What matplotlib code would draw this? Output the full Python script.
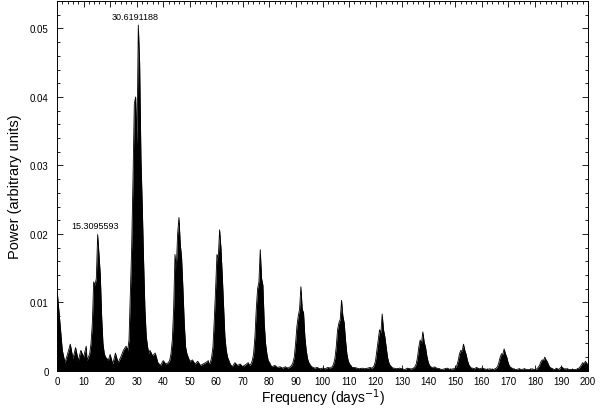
import numpy as np
import matplotlib.pyplot as plt

plt.rcParams['font.family'] = ['Liberation Sans', 'DejaVu Sans']

# harmonic frequencies (days^-1) and labels of the two marked peaks
harmonics = [15.3095593, 30.6191188, 45.93, 61.24, 76.55, 91.86, 107.17,
             122.48, 137.79, 153.10, 168.41, 183.72, 199.03]
peak_labels = {0: '15.3095593', 1: '30.6191188'}

# offsets around each harmonic where the peak profile is read (step 0.5)
peak_offsets = [-4.0, -3.5, -3.0, -2.5, -2.0, -1.5, -1.0, -0.5, 0.0,
                0.5, 1.0, 1.5, 2.0, 2.5, 3.0, 3.5, 4.0]

# power of each peak read at those offsets
peak_power = [
    [0.0015, 0.0020, 0.0025, 0.0040, 0.0070, 0.0130, 0.0125, 0.0135, 0.0199, 0.0170, 0.0140, 0.0080, 0.0040, 0.0025, 0.0020, 0.0018, 0.0015],
    [0.0030, 0.0045, 0.0110, 0.0180, 0.0280, 0.0390, 0.0400, 0.0330, 0.0505, 0.0450, 0.0310, 0.0240, 0.0160, 0.0090, 0.0050, 0.0035, 0.0025],
    [0.0012, 0.0015, 0.0025, 0.0045, 0.0090, 0.0170, 0.0150, 0.0200, 0.0224, 0.0185, 0.0165, 0.0120, 0.0070, 0.0035, 0.0025, 0.0020, 0.0015],
    [0.0010, 0.0012, 0.0020, 0.0035, 0.0075, 0.0120, 0.0170, 0.0165, 0.0206, 0.0180, 0.0140, 0.0095, 0.0050, 0.0030, 0.0020, 0.0015, 0.0010],
    [0.0008, 0.0010, 0.0015, 0.0025, 0.0050, 0.0090, 0.0120, 0.0130, 0.0177, 0.0135, 0.0125, 0.0070, 0.0040, 0.0025, 0.0015, 0.0012, 0.0008],
    [0.0006, 0.0008, 0.0012, 0.0020, 0.0040, 0.0065, 0.0080, 0.0090, 0.0123, 0.0090, 0.0085, 0.0050, 0.0030, 0.0018, 0.0012, 0.0009, 0.0006],
    [0.0005, 0.0006, 0.0010, 0.0018, 0.0035, 0.0060, 0.0070, 0.0075, 0.0103, 0.0080, 0.0070, 0.0045, 0.0025, 0.0015, 0.0010, 0.0008, 0.0005],
    [0.0004, 0.0005, 0.0008, 0.0015, 0.0030, 0.0045, 0.0060, 0.0055, 0.0083, 0.0060, 0.0050, 0.0035, 0.0020, 0.0012, 0.0008, 0.0006, 0.0004],
    [0.0003, 0.0004, 0.0006, 0.0010, 0.0020, 0.0035, 0.0045, 0.0040, 0.0057, 0.0042, 0.0035, 0.0022, 0.0013, 0.0008, 0.0006, 0.0005, 0.0003],
    [0.0003, 0.0003, 0.0005, 0.0008, 0.0015, 0.0025, 0.0030, 0.0028, 0.0039, 0.0030, 0.0024, 0.0015, 0.0009, 0.0006, 0.0004, 0.0004, 0.0003],
    [0.0002, 0.0003, 0.0004, 0.0006, 0.0012, 0.0020, 0.0025, 0.0024, 0.0032, 0.0025, 0.0020, 0.0012, 0.0007, 0.0005, 0.0004, 0.0003, 0.0002],
    [0.0002, 0.0002, 0.0003, 0.0005, 0.0008, 0.0013, 0.0016, 0.0015, 0.0020, 0.0016, 0.0013, 0.0008, 0.0005, 0.0004, 0.0003, 0.0002, 0.0002],
    [0.0002, 0.0002, 0.0003, 0.0004, 0.0006, 0.0009, 0.0012, 0.0010, 0.0014, 0.0011, 0.0009, 0.0006, 0.0004, 0.0003, 0.0002, 0.0002, 0.0002],
]

# background power at integer frequencies 0..200
noise_power = [
    0.0120, 0.0075, 0.0030, 0.0012, 0.0025, 0.0039, 0.0018, 0.0034, 0.0015, 0.0030,
    0.0020, 0.0036, 0.0014, 0.0028, 0.0020, 0.0020, 0.0022, 0.0016, 0.0028, 0.0012,
    0.0024, 0.0010, 0.0026, 0.0012, 0.0020, 0.0030, 0.0036, 0.0025, 0.0038, 0.0030,
    0.0030, 0.0030, 0.0035, 0.0040, 0.0032, 0.0030, 0.0022, 0.0026, 0.0012, 0.0008,
    0.0015, 0.0010, 0.0016, 0.0030, 0.0030, 0.0030, 0.0030, 0.0028, 0.0020, 0.0018,
    0.0014, 0.0016, 0.0010, 0.0014, 0.0008, 0.0010, 0.0012, 0.0015, 0.0014, 0.0012,
    0.0012, 0.0012, 0.0012, 0.0012, 0.0012, 0.0010, 0.0006, 0.0012, 0.0008, 0.0010,
    0.0006, 0.0009, 0.0012, 0.0012, 0.0012, 0.0012, 0.0012, 0.0012, 0.0012, 0.0010,
    0.0010, 0.0006, 0.0008, 0.0005, 0.0006, 0.0004, 0.0006, 0.0004, 0.0008, 0.0009,
    0.0009, 0.0009, 0.0009, 0.0009, 0.0009, 0.0008, 0.0006, 0.0004, 0.0005, 0.0003,
    0.0004, 0.0003, 0.0005, 0.0004, 0.0006, 0.0008, 0.0008, 0.0008, 0.0008, 0.0008,
    0.0008, 0.0006, 0.0005, 0.0004, 0.0003, 0.0004, 0.0003, 0.0004, 0.0005, 0.0006,
    0.0006, 0.0006, 0.0006, 0.0006, 0.0006, 0.0006, 0.0005, 0.0004, 0.0003, 0.0004,
    0.0003, 0.0002, 0.0004, 0.0003, 0.0005, 0.0005, 0.0005, 0.0005, 0.0005, 0.0005,
    0.0006, 0.0005, 0.0006, 0.0004, 0.0003, 0.0002, 0.0003, 0.0004, 0.0002, 0.0003,
    0.0004, 0.0004, 0.0004, 0.0004, 0.0004, 0.0004, 0.0004, 0.0003, 0.0005, 0.0003,
    0.0004, 0.0003, 0.0002, 0.0003, 0.0002, 0.0003, 0.0003, 0.0003, 0.0003, 0.0003,
    0.0003, 0.0004, 0.0003, 0.0002, 0.0003, 0.0002, 0.0003, 0.0002, 0.0002, 0.0003,
    0.0003, 0.0003, 0.0003, 0.0003, 0.0003, 0.0003, 0.0004, 0.0003, 0.0004, 0.0002,
    0.0006, 0.0003, 0.0003, 0.0002, 0.0002, 0.0002, 0.0002, 0.0002, 0.0002, 0.0002,
    0.0002,
]

# merge background and peak readings into one spectrum
freq = []
power = []
for f, p in enumerate(noise_power):
    if all(abs(f - h) > 4 for h in harmonics):
        freq.append(f)
        power.append(p)
for h, prof in zip(harmonics, peak_power):
    for o, p in zip(peak_offsets, prof):
        freq.append(h + o)
        power.append(p)
order = np.argsort(freq)
freq = np.array(freq)[order]
power = np.array(power)[order]

fig = plt.figure(figsize=(6, 4.1), dpi=100)
ax = fig.add_axes([0.095, 0.093, 0.885, 0.902])

ax.fill_between(freq, power, 0, color='black', lw=0)
ax.plot(freq, power, color='black', lw=0.6)

for i, txt in peak_labels.items():
    ax.annotate(txt, (harmonics[i], max(peak_power[i])), xytext=(-2, 3),
                textcoords='offset points', ha='center', va='bottom', fontsize=6.5)

ax.set_xlim(0, 200)
ax.set_ylim(0, 0.054)
ax.set_xticks(np.arange(0, 201, 10))
ax.set_xticks(np.arange(0, 201, 2), minor=True)
ax.set_yticks([0, 0.01, 0.02, 0.03, 0.04, 0.05])
ax.set_yticklabels(['0', '0.01', '0.02', '0.03', '0.04', '0.05'])
ax.set_yticks(np.arange(0, 0.0541, 0.002), minor=True)
ax.tick_params(which='both', direction='in', top=True, right=True, labelsize=7, width=0.6)
ax.tick_params(which='major', length=4)
ax.tick_params(axis='y', which='major', pad=6)
ax.tick_params(axis='x', which='major', pad=4)
ax.tick_params(which='minor', length=2)
for s in ax.spines.values():
    s.set_linewidth(0.7)

ax.set_xlabel('Frequency (days$^{-1}$)', fontsize=10, labelpad=0)
ax.set_ylabel('Power (arbitrary units)', fontsize=10.5, labelpad=6)

fig.savefig('out.png', dpi=100)
